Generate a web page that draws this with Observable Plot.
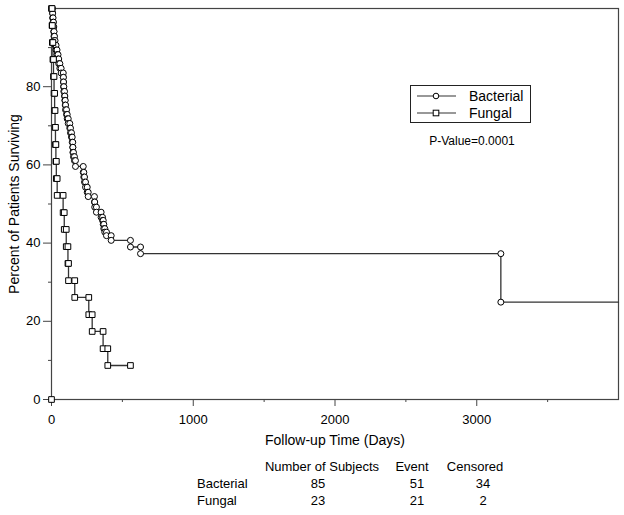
<!DOCTYPE html>
<html><head><meta charset="utf-8">
<script src="https://cdn.jsdelivr.net/npm/d3@7"></script>
<script src="https://cdn.jsdelivr.net/npm/@observablehq/plot@0.6"></script>
<style>
body{margin:0;background:#fff;font-family:Arial,"Liberation Sans",sans-serif;color:#000;}
#wrap{position:relative;width:624px;height:515px;overflow:hidden;}
#wrap svg{display:block;}
.t{position:absolute;font-size:13px;white-space:nowrap;transform:translate(-50%,-50%);line-height:1;}
.l{position:absolute;font-size:13px;white-space:nowrap;transform:translate(0,-50%);line-height:1;}
#legend{position:absolute;left:0;top:0;}
</style></head><body><div id="wrap"></div>
<script>
// Event times (days) and survival (%) after each event
const bacterialDays = [7, 8, 11, 14, 16, 18, 21, 25, 32, 39, 46, 51, 59, 68, 83, 84, 85, 87, 92, 94, 97, 99, 106, 111, 118, 129, 134, 141, 146, 150, 151, 155, 162, 169, 224, 228, 233, 240, 252, 259, 303, 305, 317, 350, 360, 365, 369, 376, 388, 421, 557, 628, 3170];
const bacterialSurv = [98.8, 97.6, 96.5, 95.3, 94.1, 92.9, 91.8, 90.6, 89.4, 88.2, 87.1, 85.9, 84.7, 83.5, 82.4, 81.2, 80.0, 78.8, 77.6, 76.5, 75.3, 74.1, 72.9, 71.8, 70.6, 69.4, 68.2, 67.1, 65.8, 64.5, 63.2, 62.1, 61.1, 59.6, 58.1, 56.9, 55.6, 54.3, 53.0, 51.9, 50.5, 49.2, 47.9, 46.6, 45.8, 44.8, 43.7, 42.8, 41.9, 40.7, 39.0, 37.3, 24.9];
const bacterialLastDay = 4000;
const fungalDays = [4, 6, 10, 14, 18, 22, 25, 28, 31, 34, 40, 82, 90, 104, 116, 120, 164, 263, 287, 364, 397];
const fungalSurv = [95.65, 91.3, 86.96, 82.6, 78.3, 73.9, 69.6, 65.2, 60.9, 56.5, 52.2, 47.8, 43.5, 39.1, 34.8, 30.4, 26.1, 21.7, 17.4, 13.0, 8.7];
const fungalLastDay = 557;
const xTicks = [0, 1000, 2000, 3000];
const xMinorTicks = [500, 1500, 2500, 3500];
const yTicks = [0, 20, 40, 60, 80];
const yMinorTicks = [10, 30, 50, 70, 90];
const groups = ["Bacterial", "Fungal"];
const tableHeader = ["Number of Subjects", "Event", "Censored"];
const subjects = [85, 23];
const events = [51, 21];
const censored = [34, 2];
const pValueText = "P-Value=0.0001";

function stepLine(days, surv, last) {
  const pts = [{x: 0, y: 100}];
  let prev = 100;
  days.forEach((d, i) => { pts.push({x: d, y: prev}); pts.push({x: d, y: surv[i]}); prev = surv[i]; });
  pts.push({x: last, y: prev});
  return pts;
}
function stepMarkers(days, surv) {
  const pts = [{x: 0, y: 100}];
  let prev = 100;
  days.forEach((d, i) => { pts.push({x: d, y: prev}); pts.push({x: d, y: surv[i]}); prev = surv[i]; });
  return pts;
}
const bLine = stepLine(bacterialDays, bacterialSurv, bacterialLastDay);
const bMarks = stepMarkers(bacterialDays, bacterialSurv);
const fLine = stepLine(fungalDays, fungalSurv, fungalLastDay);
const fMarks = stepMarkers(fungalDays, fungalSurv)
  .concat([{x: fungalLastDay, y: fungalSurv[fungalSurv.length - 1]}, {x: 0, y: 0}]);

const lineColor = "#333";
const chart = Plot.plot({
  width: 624, height: 455,
  marginLeft: 51, marginRight: 6, marginTop: 8, marginBottom: 56,
  style: {fontFamily: "Arial, 'Liberation Sans', sans-serif", fontSize: "13px", color: "#000", background: "#fff", overflow: "visible"},
  x: {domain: [0, 4000]},
  y: {domain: [0, 100]},
  marks: [
    Plot.frame({stroke: "#444", strokeWidth: 1.2}),
    Plot.axisX({ticks: xTicks, tickSize: 7, tickPadding: 8, tickFormat: d => String(d), label: null, fontSize: 13, stroke: "#444"}),
    Plot.axisX({ticks: xMinorTicks, tickSize: 3, tickFormat: () => "", label: null, stroke: "#444"}),
    Plot.axisY({ticks: yTicks, tickSize: 8, tickPadding: 3, tickFormat: d => String(d), label: null, fontSize: 13, stroke: "#444"}),
    Plot.axisY({ticks: yMinorTicks, tickSize: 3, tickFormat: () => "", label: null, stroke: "#444"}),
    Plot.text(["Follow-up Time (Days)"], {frameAnchor: "bottom", dy: 41, lineAnchor: "middle", textAnchor: "middle", fontSize: 14}),
    Plot.text(["Percent of Patients Surviving"], {frameAnchor: "left", dx: -37, rotate: -90, lineAnchor: "middle", textAnchor: "middle", fontSize: 14}),
    Plot.line(bLine, {x: "x", y: "y", stroke: lineColor, strokeWidth: 1.3}),
    Plot.line(fLine, {x: "x", y: "y", stroke: lineColor, strokeWidth: 1.3}),
    Plot.dot(bMarks, {x: "x", y: "y", r: 3, symbol: "circle", fill: "#fff", stroke: "#000", strokeWidth: 1}),
    Plot.dot(fMarks, {x: "x", y: "y", r: 3.2, symbol: "square", fill: "#fff", stroke: "#000", strokeWidth: 1})
  ]
});
const wrap = document.getElementById("wrap");
wrap.appendChild(chart);

// Legend overlay
const lg = d3.select(wrap).append("svg").attr("id", "legend").attr("width", 624).attr("height", 455);
lg.append("rect").attr("x", 410.5).attr("y", 85.5).attr("width", 120).attr("height", 37).attr("fill", "#fff").attr("stroke", "#222");
groups.forEach((g, i) => {
  const yy = 96 + i * 17;
  lg.append("line").attr("x1", 417).attr("x2", 456).attr("y1", yy).attr("y2", yy).attr("stroke", lineColor).attr("stroke-width", 1.2);
  if (i === 0) lg.append("circle").attr("cx", 436).attr("cy", yy).attr("r", 2.8).attr("fill", "#fff").attr("stroke", "#000");
  else lg.append("rect").attr("x", 433.2).attr("y", yy - 2.8).attr("width", 5.6).attr("height", 5.6).attr("fill", "#fff").attr("stroke", "#000");
  lg.append("text").attr("x", 469).attr("y", yy).attr("dy", "0.35em").attr("font-size", 14).attr("font-family", "Arial, 'Liberation Sans', sans-serif").text(g);
});
lg.append("text").attr("x", 472).attr("y", 141).attr("dy", "0.35em").attr("text-anchor", "middle").attr("font-size", 12).attr("font-family", "Arial, 'Liberation Sans', sans-serif").text(pValueText);

// Table below the chart
function addText(cls, x, y, s) {
  const d = document.createElement("div");
  d.className = cls; d.style.left = x + "px"; d.style.top = y + "px"; d.textContent = s;
  wrap.appendChild(d);
}
const colX = [322, 412, 475];
const rowY = [466, 483, 500];
tableHeader.forEach((h, j) => addText("t", colX[j], rowY[0], h));
groups.forEach((g, i) => {
  addText("l", 197, rowY[i + 1], g);
  addText("t", 318, rowY[i + 1], String(subjects[i]));
  addText("t", 417, rowY[i + 1], String(events[i]));
  addText("t", 483, rowY[i + 1], String(censored[i]));
});
</script></body></html>
